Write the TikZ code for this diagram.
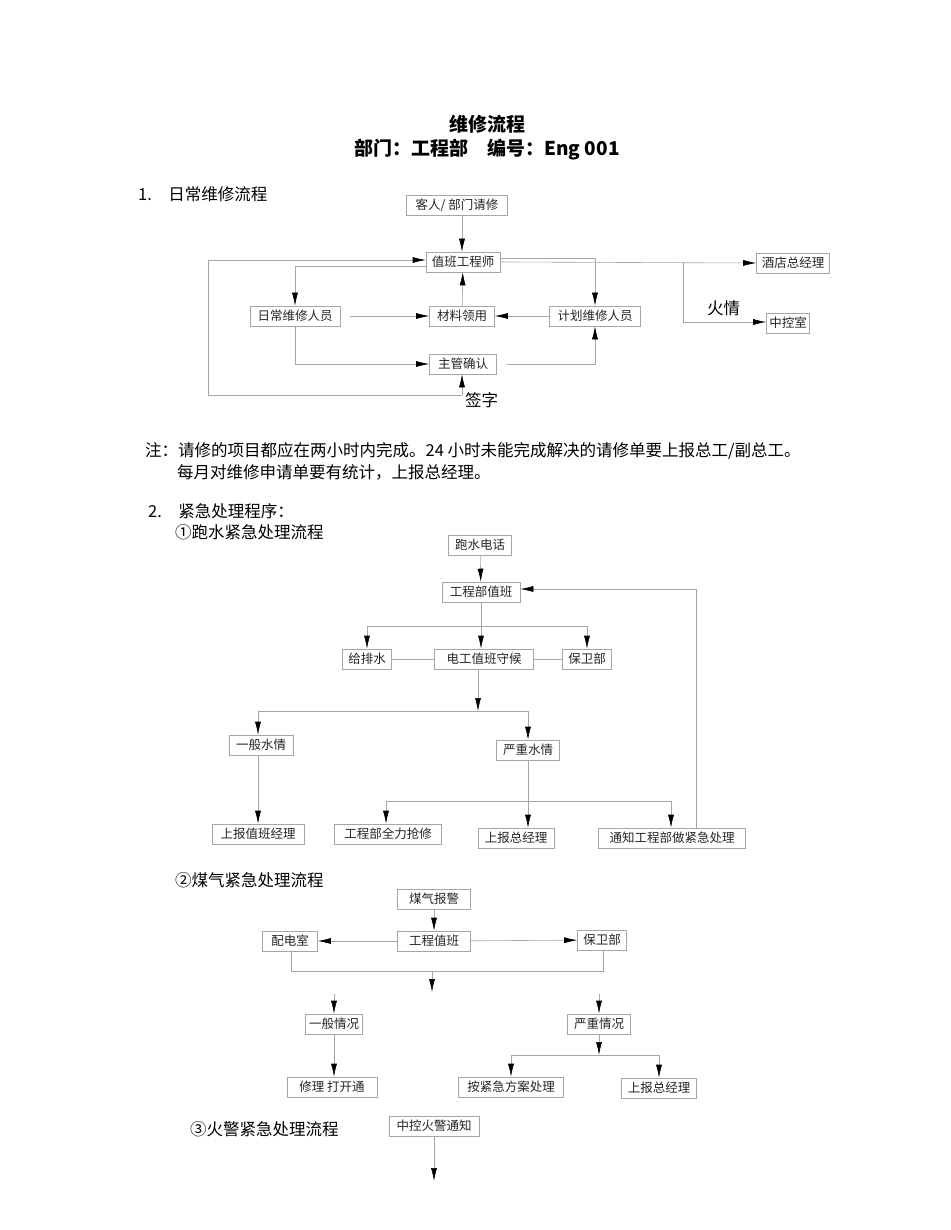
\documentclass[tikz,border=0pt]{standalone}
\usepackage{fontspec}
\setmainfont{Liberation Serif}
\newfontfamily\cjk{Noto Sans CJK SC}
\usetikzlibrary{arrows.meta}
\begin{document}
\begin{tikzpicture}[x=1pt,y=-1pt,
 bx/.style={draw=gray!70,line width=0.6pt,minimum height=20pt,inner sep=1pt,font=\cjk\fontsize{12.5}{14}\selectfont,text=black!85},
 ln/.style={draw=gray!70,line width=0.6pt},
 ar/.style={ln,-{Latex[black,length=13pt,width=6pt]}},
 lab/.style={font=\cjk\fontsize{16.5}{19}\selectfont,anchor=west,inner sep=0pt}]
\useasboundingbox[fill=white] (0,0) rectangle (950,1230);
\node[font=\cjk\bfseries\fontsize{19}{21}\selectfont] (t1) at (487,124) {维修流程};
\node[font=\cjk\bfseries\fontsize{19}{21}\selectfont] (t2) at (487,150) {部门：工程部\quad 编号：Eng 001};
\node[lab] (h1) at (138,194) {1.\quad 日常维修流程};
% section 1
\node[bx,minimum width=101] (a1) at (457,205) {客人/ 部门请修};
\node[bx,minimum width=74] (a2) at (463,262) {值班工程师};
\node[bx,minimum width=73] (a3) at (793,263) {酒店总经理};
\node[bx,minimum width=90] (a4) at (295,316) {日常维修人员};
\node[bx,minimum width=65] (a5) at (462,316) {材料领用};
\node[bx,minimum width=91] (a6) at (595,316) {计划维修人员};
\node[bx,minimum width=43] (a7) at (788,323) {中控室};
\node[bx,minimum width=67] (a8) at (463,364) {主管确认};
\node[lab] (s1) at (465,400) {签字};
\node[lab] (s2) at (707,308) {火情};
\coordinate (c1) at (208,260); \coordinate (c2) at (208,395); \coordinate (c3) at (462,395);
\draw[ar] (c2) -- (c1) -- (a2.west|-c1);
\draw[ln] (c2) -- (c3);
\draw[ar] (c3) -- (a8.south-|c3);
\coordinate (c0) at (462,215);
\draw[ar] (c0) -- (a2.north-|c0);
\draw[ar] (a2.east) -- (a3.west);
\coordinate (c4) at (683,262); \coordinate (c5) at (683,322);
\draw[ar] (c4) -- (c5) -- (a7.west|-c5);
\draw[ar] (a2.west|-,266) -| (a4.north);
\draw[ar] ([yshift=4pt]a2.east) -| (a6.north);
\draw[ar] (a4.east) ++(10,0) -- (a5.west);
\draw[ar] (a6.west) -- (a5.east);
\draw[ar] (a5) -- (a2);
\draw[ar] (a4.south) |- (a8.west);
\draw[ar] (a8.east) ++(10,0) -| (a6.south);
% note
\node[lab] (n1) at (145,451) {注：请修的项目都应在两小时内完成。24 小时未能完成解决的请修单要上报总工/副总工。};
\node[lab] (n2) at (177,472) {每月对维修申请单要有统计，上报总经理。};
\node[lab] (h2) at (148,511) {2.\quad 紧急处理程序：};
\node[lab] (h3) at (175,532) {①跑水紧急处理流程};
% section 2
\node[bx,minimum width=63] (b1) at (480,545) {跑水电话};
\node[bx,minimum width=78] (b2) at (481,592) {工程部值班};
\node[bx,minimum width=49] (b3) at (367,659) {给排水};
\node[bx,minimum width=99] (b4) at (484,659) {电工值班守候};
\node[bx,minimum width=49] (b5) at (587,659) {保卫部};
\node[bx,minimum width=64] (b6) at (261,745) {一般水情};
\node[bx,minimum width=63] (b7) at (528,750) {严重水情};
\node[bx,minimum width=92] (b8) at (258,834) {上报值班经理};
\node[bx,minimum width=107] (b9) at (388,834) {工程部全力抢修};
\node[bx,minimum width=76] (b10) at (516,838) {上报总经理};
\node[bx,minimum width=147] (b11) at (672,838) {通知工程部做紧急处理};
\draw[ar] (b1) -- (b2);
\coordinate (d1) at (696,589);
\draw[ar] (b11.north-|d1) -- (d1) -- (b2.east|-d1);
\coordinate (d2) at (481,626);
\draw[ln] (b2) -- (d2);
\draw[ar] (d2) -| (b3.north);
\draw[ar] (d2) -| (b5.north);
\draw[ar] (d2) -- (b4.north-|d2);
\draw[ln] (b3) -- (b4); \draw[ln] (b4) -- (b5);
\coordinate (d3) at (478,711);
\draw[ar] (b4.south-|d3) -- (d3);
\draw[ar] (d3) -| (b6.north-|258,0);
\draw[ar] (d3) -| (b7.north);
\draw[ar] (258,756) -- (b8.north-|258,0);
\coordinate (d4) at (528,801);
\draw[ln] (b7.south) -- (d4);
\draw[ar] (d4) -- (b10.north-|d4);
\draw[ar] (d4) -| (b9.north-|386,0);
\draw[ar] (d4) -| (b11.north-|671,0);
% section 2-2
\node[lab] (h4) at (175,880) {②煤气紧急处理流程};
\node[bx,minimum width=73] (e1) at (434,899) {煤气报警};
\node[bx,minimum width=73] (e2) at (434,941) {工程值班};
\node[bx,minimum width=55] (e3) at (290,941) {配电室};
\node[bx,minimum width=49] (e4) at (602,940) {保卫部};
\node[bx,minimum width=57] (e5) at (334,1024) {一般情况};
\node[bx,minimum width=63] (e6) at (599,1024) {严重情况};
\node[bx,minimum width=105] (e7) at (511,1087) {按紧急方案处理};
\node[bx,minimum width=75] (e8) at (659,1088) {上报总经理};
\node[bx,minimum width=90] (e9) at (332,1087) {修理\ 打开通};
\draw[ar] (e1) -- (e2);
\draw[ar] (e2) -- (e3);
\draw[ar] (e2) -- (e4);
\coordinate (f1) at (291,971); \coordinate (f2) at (603,971); \coordinate (f3) at (432,971);
\draw[ln] (e3.south-|f1) -- (f1) -- (f2) -- (e4.south-|f2);
\coordinate (f4) at (432,992);
\draw[ar] (f3) -- (f4);
\coordinate (f5) at (334,994); \coordinate (f6) at (599,994);
\draw[ar] (f5) -- (e5.north);
\draw[ar] (f6) -- (e6.north);
\coordinate (f7) at (599,1055);
\draw[ar] (e6.south) -- (f7);
\draw[ar] (f7) -| (e7.north);
\draw[ar] (f7) -| (e8.north);
\draw[ar] (e5.south) -- (e9.north-|e5.south);
% section 2-3
\node[lab] (h5) at (190,1129) {③火警紧急处理流程};
\node[bx,minimum width=90] (g1) at (434,1126) {中控火警通知};
\coordinate (g2) at (434,1181);
\draw[ar] (g1) -- (g2);
\end{tikzpicture}
\end{document}
